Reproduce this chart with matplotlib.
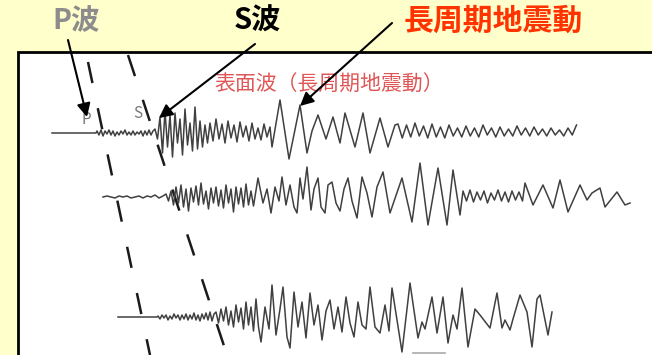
import numpy as np
import matplotlib
matplotlib.use('Agg')
import matplotlib.pyplot as plt
from matplotlib.patches import Rectangle

plt.rcParams['font.family'] = ['Noto Sans CJK JP', 'DejaVu Sans']
plt.rcParams['lines.scale_dashes'] = False

# --- seismogram traces: (time, amplitude) ---
# trace 1 (top)
tr1_flat_t = [52, 96]
tr1_flat_a = [0, 0]
tr1_p = [2, -2, 3, -3, 2, -1, 3, -2, 2, -3, 1, -2, 2, -1, 3, -2, 1, -2, 2, -2, 1, -1, 2, -3, 2, -2, 3, -2, 2]
tr1_s = [4, -6, 16, -20, 22, -14, 18, -24, 20, -10, 14, -22, 24, -12, 10, -18, 26, -16, 12, -14, 8, -10]
tr1_mid = [10, -8, 14, -6, 9, -10, 12, -5, 8, -9, 11, -4, 7, -8, 10, -6, 5, -7, 9, -4, 6]
tr1_lp_t = [272, 280, 289, 300, 307, 312, 318, 326, 333, 340, 345, 355, 363, 370, 380, 388, 395]
tr1_lp_a = [-14, 33, -26, 28, -20, 2, 18, -6, 16, -10, 20, -14, 20, -20, 15, -14, 8]
tr1_tail = [9, -5, 8, -4, 10, -3, 7, -5, 9, -4, 6, -5, 8, -3, 5, -4,
            7, -3, 5, -4, 8, -2, 5, -4, 6, -3, 4, -3, 7, -2,
            5, -3, 6, -2, 4, -3, 5, -2, 3, -3, 5, -2, 8]

# trace 2 (middle)
tr2_pre = [0, 1, 0, -1, 1, 0, 1, -1, 0, 1, -1, 1, 0, 2, -1, 1]
tr2_s = [3, -4, 6, -8, 10, -6, 12, -10, 8, -14, 9, -5, 11, -8, 14, -7, 6, -12,
         9, -6, 10, -9, 7, -11, 12, -6, 8, -15, 10, -7, 9, -10, 13, -8, 6, -9]
tr2_mid_t = [258, 263, 267, 271, 275, 279, 282, 286, 290, 294, 297, 300, 303, 307, 311, 314, 318,
             321, 325, 328, 332, 336, 340, 344, 348, 352, 357, 362, 367, 372, 377, 383]
tr2_mid_a = [19, -6, 8, -16, 10, -4, 20, -8, 12, -10, -16, 19, -2, 30, -13, 8, 19,
             -10, -16, 12, 15, -6, -14, 8, 19, -4, -21, 20, 4, -20, 10, 25]
tr2_lp_t = [390, 402, 412, 420, 428, 438, 447, 453, 460]
tr2_lp_a = [-16, 19, -25, 34, -28, 29, -28, 27, -18]
tr2_small = [6, -4, 7, -5, 5, -3, 6, -6, 4, -3, 7, -4, 5, -5, 6, -3, 5, -4]
tr2_end_t = [525, 533, 543, 553, 560, 568, 580, 587, 592, 600, 605, 617, 625, 630]
tr2_end_a = [14, -8, 12, -11, 17, -15, 12, -3, 4, 9, -10, 5, -8, -6]

# trace 3 (bottom)
tr3_flat_t = [118, 157]
tr3_flat_a = [0, 0]
tr3_p = [1, -2, 2, -1, 2, -3, 1, -2, 3, -1, 2, -3, 2, -2, 3, -3, 2, -2, 4, -3, 2, -4, 3, -2, 4, -3, 5, -4, 3]
tr3_s = [5, -6, 8, -4, 10, -8, 6, -10, 12, -5, 9, -12, 15, -8, 10, -14, 18, -10]
tr3_mid_t = [261, 265, 269, 272, 276, 280, 283, 287, 290, 294, 298, 302, 306, 310, 314, 318, 322,
             326, 330, 334, 338, 342, 346, 350, 354, 358, 362, 366, 370, 375, 380, 385, 389]
tr3_mid_a = [-25, 10, -12, 32, -18, 8, 30, -20, -31, 25, -10, 15, -21, 24, -8, 12, -23,
             6, 17, -12, 10, -15, 20, -6, -20, 15, -8, -12, 30, -10, -16, 12, -14]
tr3_lp_t = [392, 402, 410, 418, 422, 425, 432, 437, 443, 448, 453, 457, 462, 468, 475, 480,
            490, 497, 502, 505, 510, 513, 520, 527, 532, 537, 540, 548, 552]
tr3_lp_a = [29, -35, 34, -21, -5, -12, 20, -16, 20, -26, 2, -12, 29, -30, 8, 2,
            -11, 24, -11, -3, -13, -2, 22, 5, -30, 18, 22, -18, 5]


def seg(start, step, amps):
    t = start + step * np.arange(len(amps))
    return t, np.asarray(amps, dtype=float)


def build(parts):
    ts = np.concatenate([np.asarray(p[0], dtype=float) for p in parts])
    as_ = np.concatenate([np.asarray(p[1], dtype=float) for p in parts])
    return ts, as_


trace1 = build([(tr1_flat_t, tr1_flat_a), seg(97, 2, tr1_p), seg(155, 2.5, tr1_s),
                seg(210, 3, tr1_mid), (tr1_lp_t, tr1_lp_a), seg(398, 4.25, tr1_tail)])
trace2 = build([seg(103, 4, tr2_pre), seg(166, 2.5, tr2_s), (tr2_mid_t, tr2_mid_a),
                (tr2_lp_t, tr2_lp_a), seg(463, 3.5, tr2_small), (tr2_end_t, tr2_end_a)])
trace3 = build([(tr3_flat_t, tr3_flat_a), seg(158, 2, tr3_p), seg(216, 2.5, tr3_s),
                (tr3_mid_t, tr3_mid_a), (tr3_lp_t, tr3_lp_a)])

baselines = [133, 197, 317]

fig = plt.figure(figsize=(6.52, 3.55), dpi=100)
fig.patch.set_facecolor('#ffffcc')
ax = fig.add_axes([0, 0, 1, 1])
ax.set_xlim(0, 652)
ax.set_ylim(355, 0)
ax.axis('off')

# white panel with black frame
ax.add_patch(Rectangle((18, 52), 660, 320, facecolor='white', edgecolor='black', lw=2, zorder=1))

for (t, a), b in zip([trace1, trace2, trace3], baselines):
    ax.plot(t, b - a, color='#404040', lw=1.1, solid_joinstyle='round', zorder=3)

# P and S arrival dashed lines
ax.plot([88, 150], [62, 355], color='#1a1a1a', lw=1.8, linestyle=(0, (15.5, 18.5)), zorder=2)
ax.plot([128, 227], [55, 355], color='#1a1a1a', lw=1.8, linestyle=(0, (16, 18)), zorder=2)

# small scale bar at bottom
ax.plot([413, 445], [353, 353], color='#aaaaaa', lw=1.2, zorder=2)

ax.text(86, 119, 'P', color='#777777', fontsize=11, ha='center', va='center', zorder=4)
ax.text(138, 114, 'S', color='#777777', fontsize=11, ha='center', va='center', zorder=4)
ax.text(329, 85, '表面波（長周期地震動）', color='#e05555', fontsize=15,
        ha='center', va='center', zorder=4)

ax.text(76, 21, 'P波', color='#8c8c8c', fontsize=20.5, fontweight='bold', ha='center', va='center')
ax.text(257, 21, 'S波', color='black', fontsize=21, fontweight='bold', ha='center', va='center')
ax.text(493, 21, '長周期地震動', color='#ff3300', fontsize=21.5, fontweight='bold', ha='center', va='center')

arrow = dict(arrowstyle='-|>', color='black', lw=1.5, mutation_scale=20, shrinkA=0, shrinkB=0)
ax.annotate('', xy=(87, 117), xytext=(68, 40), arrowprops=arrow, zorder=5)
ax.annotate('', xy=(159, 118), xytext=(255, 44), arrowprops=arrow, zorder=5)
ax.annotate('', xy=(300, 106), xytext=(392, 23), arrowprops=arrow, zorder=5)

fig.savefig('out.png', dpi=100, facecolor=fig.get_facecolor())
